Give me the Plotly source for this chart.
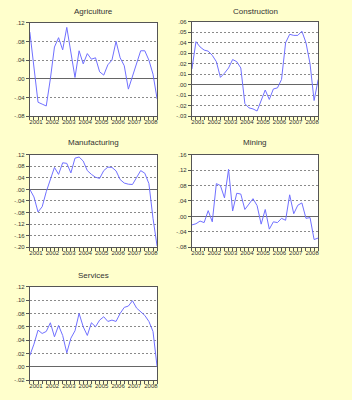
import plotly.graph_objects as go

quarters = list(range(32))
years = ["2001", "2002", "2003", "2004", "2005", "2006", "2007", "2008"]

agriculture = [0.100, 0.020, -0.050, -0.054, -0.058, 0.000, 0.068, 0.088, 0.062, 0.110,
               0.055, 0.003, 0.060, 0.032, 0.054, 0.042, 0.045, 0.015, 0.008, 0.030,
               0.040, 0.080, 0.045, 0.028, -0.022, 0.005, 0.032, 0.060, 0.060, 0.040,
               0.010, -0.043]
construction = [0.015, 0.041, 0.036, 0.033, 0.032, 0.028, 0.022, 0.007, 0.011, 0.016,
                0.024, 0.022, 0.016, -0.018, -0.022, -0.023, -0.025, -0.015, -0.005, -0.014,
                -0.004, -0.003, 0.005, 0.040, 0.048, 0.047, 0.047, 0.051, 0.040, 0.020,
                -0.015, 0.005]
manufacturing = [0.000, -0.026, -0.078, -0.060, -0.008, 0.038, 0.076, 0.052, 0.092, 0.090,
                 0.057, 0.108, 0.112, 0.098, 0.065, 0.052, 0.042, 0.038, 0.065, 0.077,
                 0.076, 0.064, 0.034, 0.022, 0.018, 0.017, 0.042, 0.065, 0.056, 0.020,
                 -0.100, -0.196]
mining = [-0.022, -0.019, -0.012, -0.016, 0.015, -0.014, 0.085, 0.080, 0.048, 0.122,
          0.014, 0.060, 0.058, 0.018, 0.032, 0.046, 0.028, -0.020, 0.018, -0.033,
          -0.014, -0.016, -0.005, -0.010, 0.056, 0.007, 0.029, 0.035, -0.005, -0.003,
          -0.060, -0.056]
services = [0.017, 0.034, 0.055, 0.050, 0.053, 0.066, 0.045, 0.062, 0.047, 0.021,
            0.043, 0.054, 0.080, 0.060, 0.047, 0.066, 0.060, 0.070, 0.075, 0.068,
            0.070, 0.068, 0.080, 0.089, 0.091, 0.099, 0.088, 0.082, 0.077, 0.068,
            0.053, 0.000]

agri_ticks = [0.12, 0.08, 0.04, 0.00, -0.04, -0.08]
agri_text = [".12", ".08", ".04", ".00", "-.04", "-.08"]
cons_ticks = [0.06, 0.05, 0.04, 0.03, 0.02, 0.01, 0.00, -0.01, -0.02, -0.03]
cons_text = [".06", ".05", ".04", ".03", ".02", ".01", ".00", "-.01", "-.02", "-.03"]
manu_ticks = [0.12, 0.08, 0.04, 0.00, -0.04, -0.08, -0.12, -0.16, -0.20]
manu_text = [".12", ".08", ".04", ".00", "-.04", "-.08", "-.12", "-.16", "-.20"]
mini_ticks = [0.16, 0.12, 0.08, 0.04, 0.00, -0.04, -0.08]
mini_text = [".16", ".12", ".08", ".04", ".00", "-.04", "-.08"]
serv_ticks = [0.12, 0.10, 0.08, 0.06, 0.04, 0.02, 0.00, -0.02]
serv_text = [".12", ".10", ".08", ".06", ".04", ".02", ".00", "-.02"]

W, H = 352, 400
panels = [
    ("Agriculture", agriculture, [-0.08, 0.12], agri_ticks, agri_text, (29, 157), (20, 115), 9),
    ("Construction", construction, [-0.03, 0.06], cons_ticks, cons_text, (192, 319), (19, 115), 9),
    ("Manufacturing", manufacturing, [-0.20, 0.12], manu_ticks, manu_text, (29, 157), (154, 248), 142),
    ("Mining", mining, [-0.08, 0.16], mini_ticks, mini_text, (192, 319), (154, 248), 142),
    ("Services", services, [-0.02, 0.12], serv_ticks, serv_text, (29, 157), (288, 383), 277),
]

fig = go.Figure()
axis_col = "#555555"
text_col = "#333333"
tick_font = dict(family="Liberation Sans, Arial, sans-serif", size=6, color=text_col)

for k, (title, vals, yr, tv, tt, (px0, px1), (py0, py1), ty) in enumerate(panels):
    suf = "" if k == 0 else str(k + 1)
    fig.add_trace(go.Scatter(x=quarters, y=vals, mode="lines",
                             line=dict(color="#7070FF", width=1),
                             xaxis="x" + suf, yaxis="y" + suf, showlegend=False,
                             hoverinfo="skip"))
    fig.update_layout({
        "xaxis" + suf: dict(
            domain=[px0 / W, px1 / W], range=[0, 31], anchor="y" + suf,
            tickvals=[4 * j + 1.5 for j in range(len(years))], ticktext=years,
            tickangle=0, ticks="", showgrid=False, zeroline=False,
            showline=True, mirror=True, linecolor=axis_col, linewidth=1,
            minor=dict(ticks="outside", dtick=1, tick0=0, ticklen=3,
                       tickcolor=axis_col, showgrid=False),
            tickfont=tick_font, fixedrange=True),
        "yaxis" + suf: dict(
            domain=[1 - py1 / H, 1 - py0 / H], range=yr, anchor="x" + suf,
            tickvals=tv, ticktext=tt, ticks="outside", ticklen=3, tickcolor=axis_col,
            showgrid=True, gridcolor="#8a8a8a", griddash="2px,2px", gridwidth=1,
            zeroline=True, zerolinecolor="#666666", zerolinewidth=1,
            showline=True, mirror=True, linecolor=axis_col, linewidth=1,
            tickfont=tick_font, fixedrange=True),
    })
    fig.add_annotation(text=title, xref="paper", yref="paper",
                       x=(px0 + px1) / 2 / W, y=1 - ty / H, showarrow=False,
                       xanchor="center", yanchor="middle",
                       font=dict(family="Liberation Sans, Arial, sans-serif", size=8,
                                 color=text_col))

fig.update_layout(width=W, height=H, margin=dict(l=0, r=0, t=0, b=0),
                  paper_bgcolor="#FFFFCC", plot_bgcolor="#FFFFFF")

fig.write_html("out.html")
